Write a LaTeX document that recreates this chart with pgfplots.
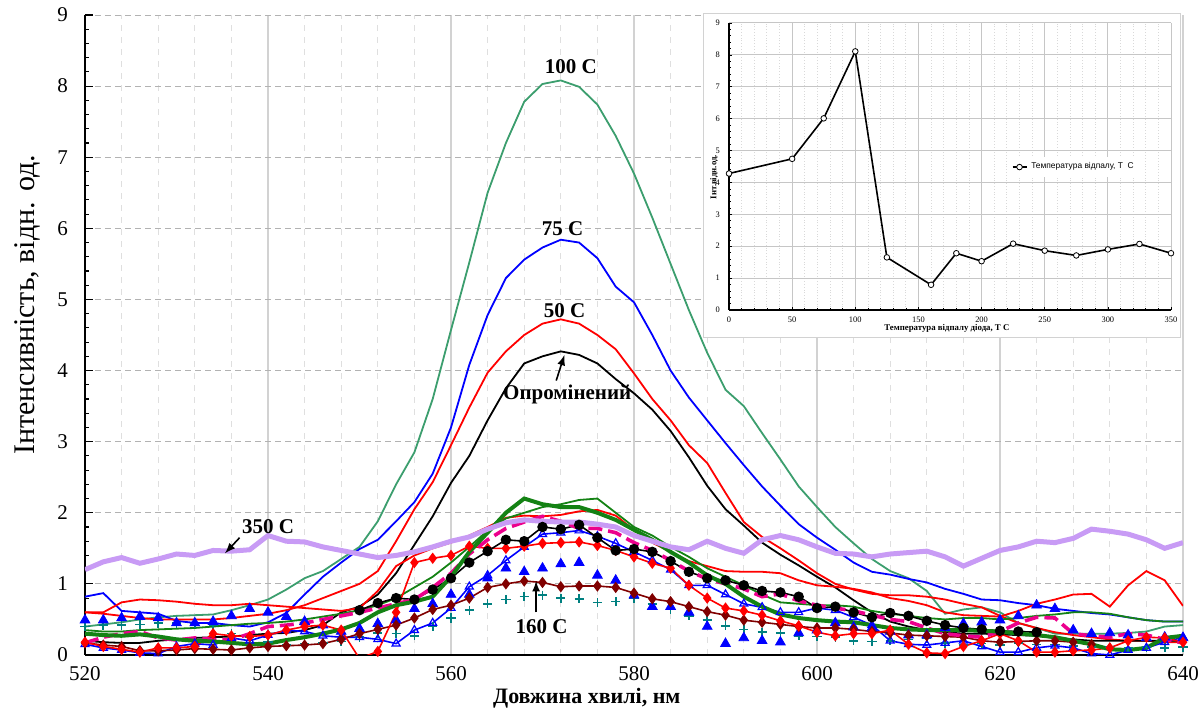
\documentclass[border=0pt]{standalone}
\usepackage{fontspec}
\setmainfont{Liberation Serif}
\newfontfamily\arialfont{Liberation Sans}
\usepackage{pgfplots}
\pgfplotsset{compat=1.18}
\usepackage{pgfplotstable}

\definecolor{sg}{RGB}{60,158,110}
\definecolor{grn}{RGB}{20,130,20}
\definecolor{lav}{RGB}{200,155,245}
\definecolor{tealc}{RGB}{0,128,128}
\definecolor{marc}{RGB}{128,0,0}
\tikzset{lab/.style={font=\fontsize{10.5}{12}\selectfont\bfseries, inner sep=0pt}}

\pgfplotstableread{
x g100 b75 r50 k0 lav rc gthk gthn kc bo bf tp md rd mg
520 0.40 0.82 0.60 0.20 1.20 0.60 0.30 0.35 nan 0.15 0.49 0.40 0.17 0.18 0.17
522 0.43 0.87 0.58 0.18 1.31 0.60 0.28 0.33 nan 0.10 0.49 0.42 0.14 0.12 0.25
524 0.46 0.62 0.55 0.17 1.37 0.74 0.27 0.33 nan 0.07 0.52 0.42 0.12 0.08 0.30
526 0.50 0.60 0.52 0.17 1.29 0.78 0.29 0.35 nan 0.03 0.54 0.43 0.06 0.04 0.33
528 0.53 0.58 0.50 0.20 1.35 0.77 0.26 0.36 nan 0.02 0.52 0.45 0.06 0.10 0.24
530 0.55 0.48 0.50 0.22 1.42 0.75 0.22 0.37 nan 0.12 0.45 0.45 0.07 0.10 0.21
532 0.56 0.45 0.50 0.24 1.40 0.72 0.20 0.38 nan 0.16 0.45 0.44 0.09 0.12 0.24
534 0.57 0.45 0.50 0.25 1.47 0.70 0.19 0.40 nan 0.14 0.47 0.42 0.08 0.30 0.22
536 0.63 0.42 0.52 0.26 1.46 0.70 0.17 0.42 nan 0.24 0.55 0.30 0.07 0.27 0.21
538 0.70 0.40 0.55 0.28 1.48 0.72 0.15 0.44 nan 0.20 0.65 0.25 0.10 0.26 0.30
540 0.78 0.46 0.58 0.30 1.68 0.70 0.16 0.45 nan 0.28 0.60 0.18 0.12 0.28 0.40
542 0.92 0.59 0.63 0.31 1.60 0.68 0.21 0.47 nan 0.35 0.54 0.14 0.13 0.35 0.42
544 1.08 0.85 0.70 0.35 1.59 0.66 0.25 0.50 nan 0.33 0.47 0.16 0.14 0.40 0.45
546 1.18 1.10 0.80 0.42 1.52 0.64 0.30 0.54 nan 0.27 0.42 0.17 0.16 0.42 0.50
548 1.35 1.30 0.90 0.60 1.47 0.62 0.36 0.58 nan 0.25 0.33 0.19 0.22 0.35 0.55
550 1.52 1.49 1.00 0.68 1.42 0.66 0.45 0.63 0.63 0.25 0.37 0.25 0.30 -0.05 0.60
552 1.88 1.62 1.18 0.85 1.37 0.90 0.60 0.70 0.73 0.22 0.44 0.31 0.36 0.05 0.66
554 2.40 1.88 1.60 1.15 1.40 1.25 0.70 0.80 0.80 0.16 0.49 0.30 0.42 0.60 0.72
556 2.85 2.15 2.05 1.55 1.45 1.40 0.75 0.95 0.78 0.35 0.65 0.27 0.52 1.30 0.78
558 3.60 2.55 2.43 1.95 1.52 1.50 0.82 1.10 0.92 0.45 0.72 0.40 0.64 1.36 0.95
560 4.57 3.20 2.95 2.42 1.60 1.58 1.10 1.30 1.08 0.66 0.85 0.52 0.70 1.40 1.15
562 5.52 4.08 3.48 2.80 1.66 1.68 1.45 1.52 1.30 0.96 0.85 0.63 0.80 1.53 1.42
564 6.50 4.78 3.97 3.30 1.77 1.80 1.72 1.75 1.46 1.12 1.08 0.72 0.95 1.50 1.62
566 7.20 5.30 4.27 3.75 1.86 1.93 2.00 1.92 1.62 1.33 1.22 0.78 1.00 1.50 1.78
568 7.78 5.56 4.50 4.10 1.90 1.96 2.20 2.00 1.60 1.52 1.17 0.82 1.04 1.53 1.87
570 8.03 5.73 4.66 4.20 1.88 1.95 2.12 2.08 1.80 1.70 1.22 0.84 1.02 1.57 1.95
572 8.08 5.84 4.72 4.27 1.87 1.97 2.08 2.12 1.77 1.72 1.28 0.80 0.96 1.58 1.88
574 7.99 5.80 4.66 4.22 1.87 2.02 2.08 2.18 1.83 1.75 1.30 0.79 0.97 1.59 1.78
576 7.74 5.58 4.50 4.10 1.84 2.04 2.00 2.20 1.65 1.67 1.12 0.74 0.97 1.54 1.78
578 7.30 5.18 4.30 3.88 1.80 1.96 1.90 2.00 1.47 1.57 1.05 0.75 0.95 1.47 1.72
580 6.77 4.96 3.96 3.68 1.68 1.76 1.76 1.80 1.49 1.45 0.84 0.80 0.87 1.38 1.58
582 6.15 4.50 3.60 3.45 1.60 1.58 1.62 1.68 1.45 1.33 0.68 0.72 0.79 1.29 1.47
584 5.50 4.00 3.30 3.15 1.52 1.45 1.45 1.52 1.32 1.20 0.68 0.64 0.75 1.22 1.33
586 4.85 3.62 2.95 2.78 1.48 1.32 1.30 1.38 1.17 0.98 0.60 0.55 0.68 0.98 1.18
588 4.25 3.30 2.70 2.38 1.60 1.25 1.12 1.22 1.08 0.98 0.40 0.49 0.61 0.80 1.07
590 3.73 2.98 2.28 2.05 1.50 1.18 1.00 1.10 1.05 0.85 0.16 0.41 0.56 0.66 1.00
592 3.50 2.67 1.87 1.82 1.43 1.17 0.82 0.98 0.98 0.72 0.24 0.36 0.49 0.62 0.93
594 3.12 2.37 1.66 1.58 1.62 1.17 0.68 0.85 0.90 0.67 0.20 0.32 0.46 0.56 0.82
596 2.75 2.10 1.50 1.41 1.68 1.15 0.57 0.74 0.88 0.60 0.18 0.31 0.43 0.48 0.86
598 2.37 1.84 1.33 1.26 1.62 1.05 0.52 0.72 0.82 0.60 0.31 0.27 0.40 0.41 0.76
600 2.08 1.65 1.15 1.10 1.52 0.98 0.49 0.70 0.66 0.66 0.35 0.26 0.38 0.32 0.70
602 1.80 1.48 1.00 0.95 1.43 0.96 0.47 0.70 0.68 0.63 0.45 0.25 0.38 0.27 0.66
604 1.57 1.30 0.92 0.77 1.42 0.93 0.46 0.68 0.60 0.53 0.39 0.20 0.36 0.30 0.62
606 1.35 1.17 0.86 0.60 1.38 0.88 0.42 0.62 0.53 0.42 0.38 0.19 0.33 0.30 0.56
608 1.18 1.13 0.84 0.47 1.42 0.80 0.38 0.58 0.59 0.20 0.33 0.20 0.31 0.35 0.50
610 1.08 1.07 0.84 0.40 1.44 0.76 0.36 0.55 0.55 0.15 0.28 0.22 0.28 0.15 0.47
612 0.90 1.02 0.82 0.35 1.46 0.70 0.35 0.52 0.48 0.14 0.28 0.23 0.27 0.03 0.38
614 0.58 0.93 0.78 0.32 1.38 0.60 0.35 0.50 0.42 0.17 0.38 0.17 0.26 0.02 0.30
616 0.64 0.86 0.72 0.30 1.25 0.56 0.35 0.52 0.38 0.20 0.44 0.14 0.25 0.12 0.27
618 0.67 0.78 0.67 0.30 1.36 0.55 0.34 0.52 0.36 0.12 0.46 0.16 0.20 0.20 0.25
620 0.60 0.77 0.55 0.29 1.47 0.54 0.33 0.50 0.34 0.04 0.49 0.14 0.18 0.30 0.33
622 0.45 0.73 0.45 0.28 1.52 0.62 0.30 0.52 0.33 0.04 0.55 0.17 0.19 0.20 0.45
624 0.38 0.70 0.38 0.27 1.60 0.72 0.28 0.55 0.32 0.10 0.70 0.15 0.20 0.04 0.53
626 0.30 0.65 0.32 0.24 1.58 0.78 0.25 0.57 nan 0.13 0.65 0.15 0.20 0.04 0.52
628 0.30 0.62 0.28 0.22 1.64 0.85 0.20 0.60 nan 0.10 0.35 0.13 0.18 0.06 0.30
630 0.30 0.59 0.25 0.20 1.77 0.86 0.15 0.60 nan 0.02 0.30 0.11 0.15 0.07 0.27
632 0.30 0.57 0.22 0.20 1.74 0.68 0.08 0.58 nan 0.00 0.31 0.11 nan 0.10 0.25
634 0.31 0.53 0.20 0.20 1.70 0.98 0.07 0.53 nan 0.07 0.28 0.10 nan 0.20 0.30
636 0.33 0.49 0.20 0.20 1.62 1.18 0.10 0.49 nan 0.10 0.24 0.11 nan 0.25 0.28
638 0.40 0.47 0.18 0.20 1.50 1.05 0.24 0.47 nan 0.18 0.25 0.10 nan 0.24 0.22
640 0.42 0.47 0.18 0.20 1.58 0.69 0.27 0.47 nan 0.25 0.24 0.11 nan 0.18 0.17
}\spectra

\pgfplotstableread{
T I
0 4.28
50 4.74
75 6.01
100 8.11
125 1.65
160 0.79
180 1.78
200 1.53
225 2.08
250 1.86
275 1.71
300 1.90
325 2.07
350 1.78
}\insetdata

\begin{document}
\begin{tikzpicture}
\useasboundingbox (-42.5pt,-27.5pt) rectangle (557pt,327.5pt);
\begin{axis}[
  at={(0pt,0pt)}, anchor=south west,
  scale only axis, width=549pt, height=320pt,
  xmin=520, xmax=640, ymin=0, ymax=9,
  xtick={520,540,...,640}, ytick={0,1,...,9},
  minor x tick num=4, minor y tick num=4,
  grid=both,
  major x grid style={gray!35, line width=0.6pt},
  minor x grid style={gray!25, dashed, line width=0.5pt},
  major y grid style={gray!60, densely dashed, line width=0.5pt},
  minor y grid style={draw=none},
  axis x line*=bottom, axis y line*=left,
  axis line style={black, line width=1.1pt},
  tick align=inside,
  major tick length=4pt, minor tick length=2.2pt,
  tick style={black, line width=0.6pt},
  major x tick style={draw=none}, minor x tick style={draw=none},
  /pgf/number format/assume math mode=true,
  tick label style={font=\fontsize{10.5}{12}\selectfont},
  yticklabel style={xshift=-5pt},
  xticklabel style={yshift=-2pt},
  xlabel={Довжина хвилі, нм},
  ylabel={Інтенсивність, відн. од.},
  xlabel style={font=\fontsize{11}{13}\selectfont\bfseries, at={(axis description cs:0.457,-0.067)}, anchor=center},
  ylabel style={font=\fontsize{15}{17}\selectfont, at={(axis description cs:-0.052,0.547)}, anchor=center},
  clip=true,
]
\addplot[sg, line width=0.9pt] table[x=x,y=g100]{\spectra};
\addplot[blue, line width=0.9pt] table[x=x,y=b75]{\spectra};
\addplot[red, line width=0.9pt] table[x=x,y=r50]{\spectra};
\addplot[black, line width=0.9pt] table[x=x,y=k0]{\spectra};
\addplot[red, line width=0.9pt] table[x=x,y=rc]{\spectra};
\addplot[grn, line width=0.9pt] table[x=x,y=gthn]{\spectra};
\addplot[only marks, tealc, mark=+, mark size=2.3pt, mark options={line width=0.8pt}] table[x=x,y=tp]{\spectra};
\addplot[only marks, blue, mark=triangle*, mark size=2.8pt] table[x=x,y=bf]{\spectra};
\addplot[blue, line width=0.8pt, mark=triangle, mark size=2.3pt, mark options={line width=0.6pt}] table[x=x,y=bo]{\spectra};
\addplot[marc, line width=0.8pt, mark=diamond*, mark size=2.2pt] table[x=x,y=md]{\spectra};
\addplot[red, line width=0.8pt, mark=diamond*, mark size=2.2pt] table[x=x,y=rd]{\spectra};
\addplot[black, line width=0.8pt, mark=*, mark size=2.2pt] table[x=x,y=kc]{\spectra};
\addplot[magenta, line width=1.8pt, dash pattern=on 7pt off 3pt] table[x=x,y=mg]{\spectra};
\addplot[grn, line width=2pt] table[x=x,y=gthk]{\spectra};
\addplot[lav, line width=2.5pt] table[x=x,y=lav]{\spectra};

\node[lab] at (axis cs:573.1,8.27) {100 C};
\node[lab] at (axis cs:572.2,6.0) {75 C};
\node[lab] at (axis cs:572.4,4.84) {50 C};
\node[lab] at (axis cs:572.7,3.66) {Опромінений};
\draw[-latex, line width=0.8pt] (axis cs:571.5,3.86) -- (axis cs:572.4,4.22);
\node[lab] at (axis cs:540,1.8) {350 C};
\draw[-latex, line width=0.8pt] (axis cs:536.9,1.65) -- (axis cs:535.3,1.43);
\node[lab] at (axis cs:569.9,0.40) {160 C};
\draw[-latex, line width=0.8pt] (axis cs:569.3,0.60) -- (axis cs:569.3,1.04);
\end{axis}

\fill[white] (309pt,158.5pt) rectangle (547.5pt,320.5pt);
\draw[gray!35, line width=0.5pt] (309pt,158.5pt) rectangle (547.5pt,320.5pt);

\begin{axis}[
  at={(322pt,172.5pt)}, anchor=south west,
  scale only axis, width=221pt, height=143.5pt,
  xmin=0, xmax=350, ymin=0, ymax=9,
  xtick={0,50,...,350}, ytick={0,1,...,9},
  minor x tick num=4, minor y tick num=4,
  grid=both,
  major grid style={gray!45, line width=0.5pt},
  minor x grid style={gray!30, densely dotted, line width=0.4pt},
  minor y grid style={draw=none},
  axis x line*=bottom, axis y line*=left,
  axis line style={black, line width=0.6pt},
  tick align=inside,
  major tick length=1.6pt, minor tick length=1pt,
  tick style={black, line width=0.3pt},
  /pgf/number format/assume math mode=true,
  tick label style={font=\fontsize{4.2}{5}\selectfont},
  yticklabel style={xshift=-1pt},
  xlabel={Температура відпалу діода, Т С},
  ylabel={Інт.відн.од.},
  xlabel style={font=\fontsize{4.4}{5}\selectfont\bfseries, at={(axis description cs:0.493,-0.063)}, anchor=center},
  ylabel style={font=\fontsize{4.4}{5}\selectfont\bfseries, at={(axis description cs:-0.034,0.463)}, anchor=center},
  legend style={at={(0.636,0.498)}, anchor=west, draw=none, fill=white, inner sep=0.6pt,
    font=\arialfont\fontsize{4.2}{5}\selectfont},
  legend image code/.code={\draw[#1, mark repeat=2, mark phase=2] plot coordinates {(0pt,0pt) (3.5pt,0pt) (7pt,0pt)};},
]
\addplot[black, line width=0.8pt, mark=*, mark size=1.4pt, mark options={fill=white, draw=black, line width=0.4pt}] table[x=T,y=I]{\insetdata};
\addlegendentry{Температура відпалу, Т\ \ С}
\end{axis}
\end{tikzpicture}
\end{document}
